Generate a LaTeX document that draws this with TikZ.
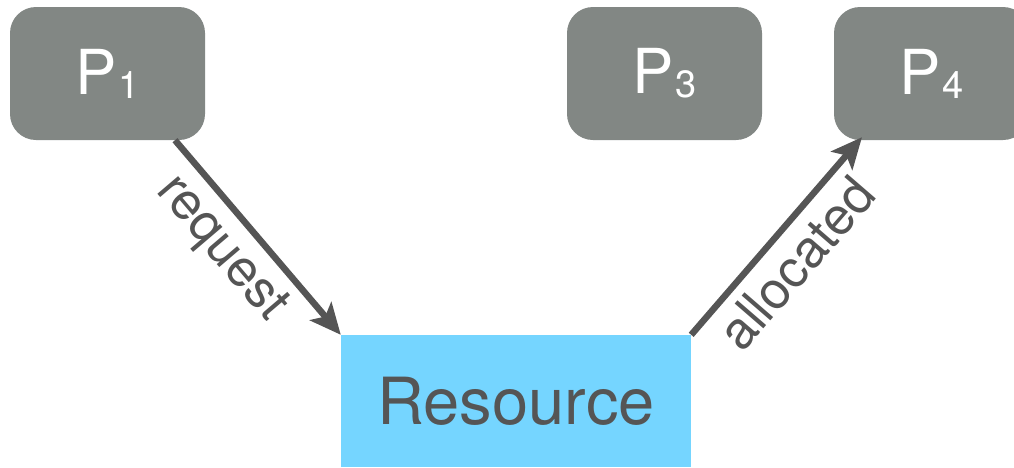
\documentclass[tikz,border=0pt]{standalone}
\usepackage{fontspec}
\setmainfont{TeX Gyre Heros}
\usetikzlibrary{arrows.meta}
\definecolor{procgray}{HTML}{828784}
\definecolor{resblue}{HTML}{75D5FF}
\definecolor{inkgray}{HTML}{555555}
\tikzset{
  proc/.style={rectangle, rounded corners=26pt, fill=procgray, text=white,
    minimum width=195pt, minimum height=133pt, inner sep=0pt,
    font=\fontsize{62}{62}\selectfont},
  res/.style={rectangle, fill=resblue, text=inkgray,
    minimum width=350pt, minimum height=132pt, inner sep=0pt,
    font=\fontsize{65}{65}\selectfont},
  arr/.style={draw=inkgray, line width=6.5pt,
    -{Stealth[length=31pt, width=28pt, inset=7pt]}},
  lbl/.style={text=inkgray, sloped, anchor=north, inner sep=10pt,
    font=\fontsize{52}{52}\selectfont}
}
\newcommand{\procname}[1]{P\kern2pt\raisebox{-4pt}{\fontsize{38}{38}\selectfont #1}}
\begin{document}
\begin{tikzpicture}[x=1pt, y=-1pt]
  \useasboundingbox (0,0) rectangle (1014,467);
  \clip (0,0) rectangle (1014,467);

  % processes
  \node[proc] (p1) at (107.5,73.5) {\procname{1}};
  \node[proc] (p3) at (664.5,73.5) {\procname{3}};
  \node[proc] (p4) at (931.5,73.5) {\procname{4}};

  % shared resource
  \node[res] (res) at (516,401) {Resource};

  % request and allocation edges
  \draw[arr] ([xshift=67.5pt]p1.south) -- (res.north west)
    node[lbl, pos=0.44] {request};
  \draw[arr] (res.north east) -- ([xshift=-69.5pt, yshift=3pt]p4.south)
    node[lbl, pos=0.47] {allocated};
\end{tikzpicture}
\end{document}
